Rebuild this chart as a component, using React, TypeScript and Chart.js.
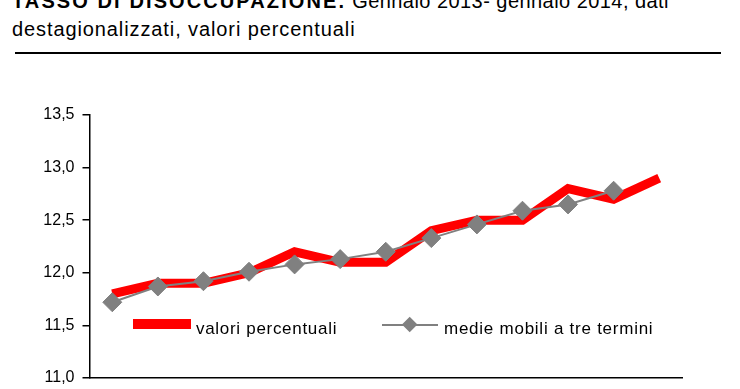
import React, { useEffect, useRef } from "react";
import { Chart, registerables } from "chart.js";

Chart.register(...registerables);

const FONT = '"Liberation Sans", Arial, sans-serif';

const categories = [
  "gen 2013", "feb 2013", "mar 2013", "apr 2013", "mag 2013", "giu 2013", "lug 2013",
  "ago 2013", "set 2013", "ott 2013", "nov 2013", "dic 2013", "gen 2014",
];
const valoriPercentuali = [11.8, 11.9, 11.9, 12.0, 12.2, 12.1, 12.1, 12.4, 12.5, 12.5, 12.8, 12.7, 12.9];
const medieMobili = [11.72, 11.87, 11.92, 12.01, 12.08, 12.13, 12.2, 12.33, 12.46, 12.59, 12.65, 12.78, null];
const yMin = 11;
const yMax = 13.5;
const yStep = 0.5;

export default function App() {
  const ref = useRef<HTMLCanvasElement | null>(null);

  useEffect(() => {
    if (!ref.current) return;
    const chart = new Chart(ref.current, {
      type: "line",
      data: {
        labels: categories,
        datasets: [
          {
            label: "medie mobili a tre termini",
            data: medieMobili,
            borderColor: "#808080",
            backgroundColor: "#808080",
            borderWidth: 2,
            pointStyle: "rectRot",
            pointRadius: 9.5,
            pointBackgroundColor: "#808080",
            pointBorderColor: "#808080",
            pointBorderWidth: 1,
            tension: 0,
            order: 0,
          },
          {
            label: "valori percentuali",
            data: valoriPercentuali,
            borderColor: "#ff0000",
            backgroundColor: "#ff0000",
            borderWidth: 9,
            pointRadius: 0,
            borderJoinStyle: "miter",
            borderCapStyle: "butt",
            tension: 0,
            order: 1,
          },
        ],
      },
      options: {
        responsive: false,
        animation: false,
        devicePixelRatio: 1,
        layout: { padding: { left: 0, top: 115, right: 58, bottom: 11 } },
        plugins: { legend: { display: false }, tooltip: { enabled: false } },
        scales: {
          x: {
            type: "category",
            offset: true,
            grid: { display: false, drawTicks: false },
            ticks: { display: false },
            border: { display: true, color: "#000", width: 1.5 },
            afterFit: (s: any) => {
              s.height = 0;
            },
          },
          y: {
            min: yMin,
            max: yMax,
            ticks: {
              stepSize: yStep,
              color: "#000",
              padding: 8,
              font: { family: FONT, size: 16 },
              callback: (v: any) => Number(v).toFixed(1).replace(".", ","),
            },
            grid: { drawOnChartArea: false, drawTicks: true, tickLength: 7, color: "#000", lineWidth: 1.5 },
            border: { display: true, color: "#000", width: 1.5 },
            afterFit: (s: any) => {
              s.width = 89.5;
              s.paddingTop = 0;
              s.paddingBottom = 0;
            },
          },
        },
      },
    });
    return () => chart.destroy();
  }, []);

  return (
    <div
      style={{
        position: "fixed",
        left: 0,
        top: 0,
        width: 740,
        height: 389,
        overflow: "hidden",
        background: "#fff",
        fontFamily: FONT,
        color: "#000",
      }}
    >
      <div
        style={{
          position: "absolute",
          left: 12,
          top: -13,
          fontSize: 20,
          lineHeight: "28px",
          letterSpacing: "0.45px",
          whiteSpace: "nowrap",
        }}
      >
        <b style={{ letterSpacing: "2.1px" }}>TASSO DI DISOCCUPAZIONE.</b> Gennaio 2013- gennaio 2014, dati
        <br />
        <span style={{ letterSpacing: "0.9px" }}>destagionalizzati, valori percentuali</span>
      </div>
      <div style={{ position: "absolute", left: 15, top: 52, width: 706, height: 2, background: "#000" }} />
      <canvas ref={ref} width={740} height={389} style={{ position: "absolute", left: 0, top: 0, width: 740, height: 389 }} />
      <div style={{ position: "absolute", left: 133, top: 319, width: 58, height: 10, background: "#ff0000" }} />
      <div
        style={{
          position: "absolute",
          left: 196,
          top: 319,
          fontSize: 17,
          lineHeight: "20px",
          letterSpacing: "0.7px",
          whiteSpace: "nowrap",
        }}
      >
        valori percentuali
      </div>
      <div style={{ position: "absolute", left: 382, top: 324, width: 56, height: 2, background: "#808080" }} />
      <div
        style={{
          position: "absolute",
          left: 409.5 - 5.7,
          top: 325 - 5.7,
          width: 11.4,
          height: 11.4,
          background: "#808080",
          transform: "rotate(45deg)",
        }}
      />
      <div
        style={{
          position: "absolute",
          left: 444,
          top: 319,
          fontSize: 17,
          lineHeight: "20px",
          letterSpacing: "0.75px",
          whiteSpace: "nowrap",
        }}
      >
        medie mobili a tre termini
      </div>
    </div>
  );
}
